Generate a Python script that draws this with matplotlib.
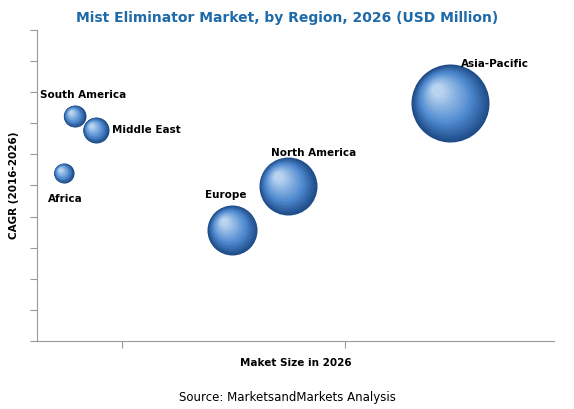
import matplotlib.pyplot as plt
import numpy as np
from matplotlib.transforms import offset_copy
from matplotlib.colors import to_rgb

regions = ["Africa", "South America", "Middle East", "Europe", "North America", "Asia-Pacific"]
market_size = [5.2, 7.3, 11.4, 37.8, 48.5, 79.9]
cagr = [54.0, 72.3, 67.8, 35.7, 49.8, 76.5]
bubble_px = [10, 11, 13, 25, 29, 39]

fig = plt.figure(figsize=(5.74, 4.09), dpi=100)
ax = fig.add_axes([0.064, 0.166, 0.902, 0.761])
ax.set_xlim(0, 100)
ax.set_ylim(0, 100)

dark = np.array(to_rgb("#1d4a86"))
mid = np.array(to_rgb("#4f8ad0"))
light = np.array(to_rgb("#b8d4f0"))

for x, y, r in zip(market_size, cagr, bubble_px):
    rpt = r * 0.72
    n = 30
    for k in range(n):
        t = k / (n - 1)
        rr = rpt * (1 - 0.85 * t)
        if t < 0.4:
            c = dark + (mid - dark) * (t / 0.4)
        else:
            c = mid + (light - mid) * ((t - 0.4) / 0.6)
        off = (rpt - rr) * 0.4
        tr = offset_copy(ax.transData, fig=fig, x=-off, y=off, units="points")
        ax.scatter([x], [y], s=(2 * rr) ** 2, color=c, transform=tr, linewidths=0, zorder=3 + k)

labels_pos = {
    "Africa": (5.5, 45.5, "center"),
    "South America": (9.0, 79.0, "center"),
    "Middle East": (14.5, 67.8, "left"),
    "Europe": (36.5, 47.0, "center"),
    "North America": (53.5, 60.5, "center"),
    "Asia-Pacific": (88.5, 89.0, "center"),
}
for name in regions:
    lx, ly, ha = labels_pos[name]
    ax.text(lx, ly, name, fontsize=7.5, fontweight="bold", ha=ha, va="center", zorder=50)

for s in ["top", "right"]:
    ax.spines[s].set_visible(False)
for s in ["left", "bottom"]:
    ax.spines[s].set_color("#999999")
ax.set_yticks(np.arange(0, 101, 10))
ax.set_xticks([16.4, 59.5])
ax.set_yticklabels([])
ax.set_xticklabels([])
ax.tick_params(axis="both", color="#999999", length=5)

ax.set_xlabel("Maket Size in 2026", fontsize=7.5, fontweight="bold", labelpad=4)
ax.set_ylabel("CAGR (2016-2026)", fontsize=7.5, fontweight="bold", labelpad=4)
fig.text(0.5, 0.955, "Mist Eliminator Market, by Region, 2026 (USD Million)",
         ha="center", va="center", fontsize=10, fontweight="bold", color="#1f6aa8")
fig.text(0.5, 0.028, "Source: MarketsandMarkets Analysis", ha="center", va="center", fontsize=8.5)

fig.savefig("out.png", dpi=100)
